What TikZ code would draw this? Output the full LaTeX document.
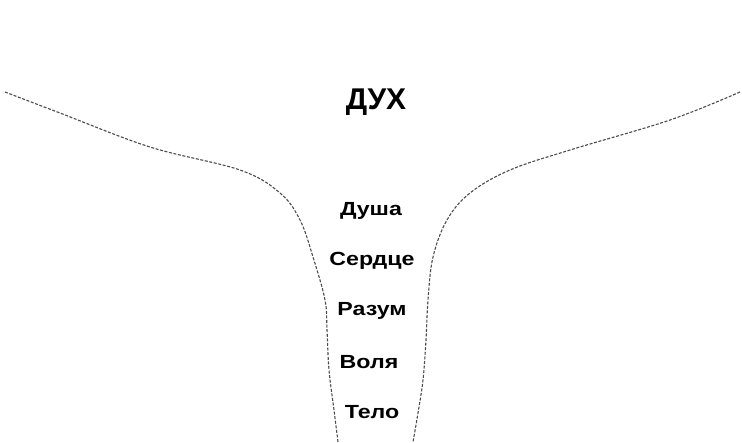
\documentclass[tikz,border=0pt]{standalone}
\usepackage{fontspec}
\setmainfont{Liberation Sans}
\begin{document}
\begin{tikzpicture}[x=1pt,y=-1pt,
  edgeline/.style={draw=black!70,line width=1.1pt,dash pattern=on 3pt off 1.6pt},
  lbl/.style={font=\bfseries\fontsize{19}{22}\selectfont,xscale=1.22,inner sep=0pt},
  big/.style={font=\bfseries\fontsize{30}{33}\selectfont,inner sep=0pt}]
\useasboundingbox (0,0) rectangle (742,442);
\fill[white] (0,0) rectangle (742,442);
% funnel outline
\draw[edgeline] plot[smooth,tension=0.6] coordinates {(5,92) (60,113) (150,147) (240,170) (280,193) (300,220) (313,257) (325,300) (327,330) (329,370) (334,410) (338,442)};
\draw[edgeline] plot[smooth,tension=0.6] coordinates {(740,92) (670,120) (570,150) (510,170) (470,193) (447,220) (433,257) (428,300) (426,340) (423,380) (418,413) (413,442)};
% labels
\node[big] (dux) at (376,102) {ДУХ};
\node[lbl] (dusha) at (371,211) {Душа};
\node[lbl] (serdce) at (372,261) {Сердце};
\node[lbl] (razum) at (372,311) {Разум};
\node[lbl] (volya) at (369,362) {Воля};
\node[lbl] (telo) at (372,412) {Тело};
\end{tikzpicture}
\end{document}
